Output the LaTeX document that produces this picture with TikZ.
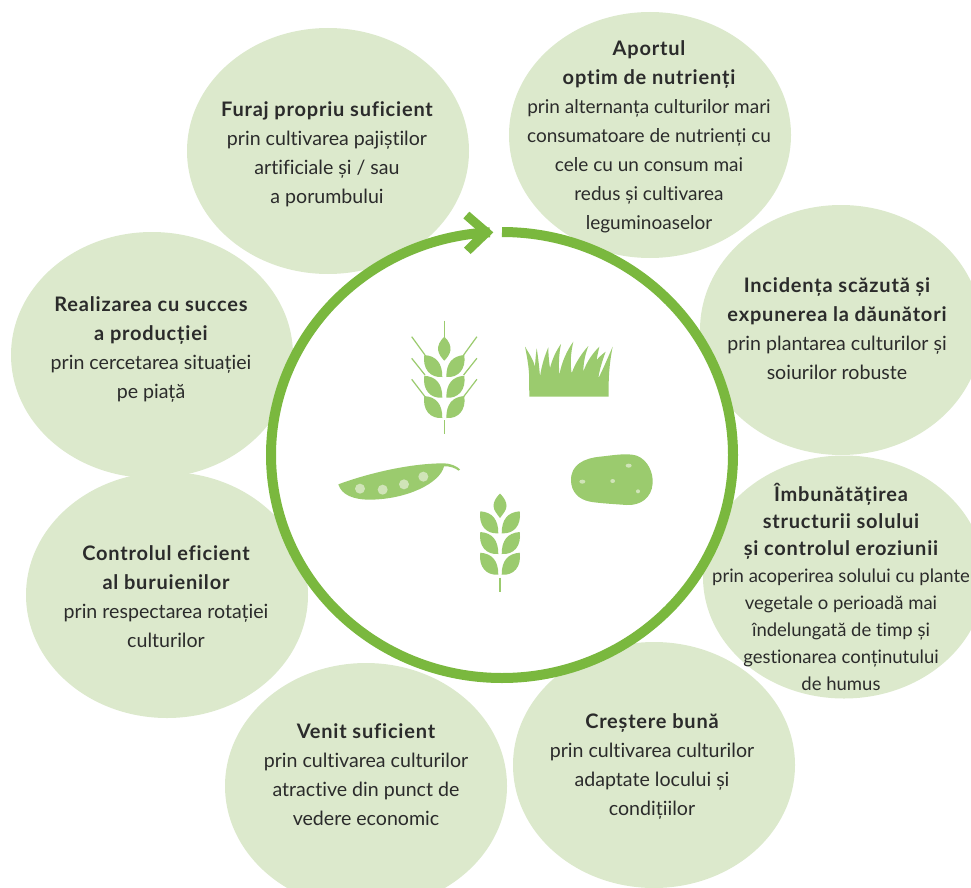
\documentclass[tikz,border=0pt]{standalone}
\usepackage{fontspec}
\usetikzlibrary{shapes.geometric}
\setmainfont[Ligatures=NoCommon,BoldFeatures={LetterSpace=4}]{Lato}
\definecolor{blob}{HTML}{DCE9CC}
\definecolor{ringc}{HTML}{7AB83E}
\definecolor{icon}{HTML}{9BCB6E}
\definecolor{spot}{HTML}{D0E4B8}
\definecolor{ink}{HTML}{2B2B2B}
\newcommand{\hd}[1]{{\fontsize{20}{29}\selectfont\bfseries #1}}
\tikzset{
  x=1pt,y=-1pt,
  bubble/.style={ellipse,fill=blob,inner sep=0pt,outer sep=0pt,minimum width=282pt,minimum height=246pt},
  label/.style={align=center,text=ink,font=\fontsize{19.6}{29}\selectfont,inner sep=0pt},
  leaf/.pic={\fill[icon] (0,0) .. controls (12,1) and (18,8) .. (18,22) .. controls (6,23) and (-2,14) .. (0,0) -- cycle;},
  zoomA/.style={xshift=320pt,yshift=-200pt,x=0.33333pt,y=-0.33333pt},
  zoomB/.style={xshift=320pt,yshift=-440pt,x=0.33333pt,y=-0.33333pt},
}
\begin{document}
\begin{tikzpicture}
\useasboundingbox (0,0) rectangle (971,888);
\clip (0,0) rectangle (971,888);
% bubbles
\node[bubble] (b1) at (328,151) {};
\node[bubble] (b2) at (650,135) {};
\node[bubble,minimum height=250pt] (b3) at (841,330) {};
\node[bubble,minimum height=243pt] (b4) at (844,577) {};
\node[bubble] (b5) at (654,765) {};
\node[bubble] (b6) at (366,786) {};
\node[bubble] (b7) at (167,595) {};
\node[bubble] (b8) at (152,355) {};
% ring
\node[ellipse,fill=white,minimum width=462pt,minimum height=446pt,inner sep=0pt,outer sep=0pt] (hub) at (502,455) {};
\draw[ringc,line width=10pt] (hub.north) arc[start angle=90,end angle=-267,x radius=231pt,y radius=223pt];
\fill[ringc,zoomA] (520,97) -- (448,35) -- (430,55) -- (478,97) -- (432,143) -- (452,162) -- cycle;
% wheat 1
\begin{scope}[icon]
\draw[line width=1.5pt] (444.3,320.7) -- (444.3,337) (444.3,420) -- (444.3,434.3);
\fill (444.3,336.7) .. controls (449,341) and (451,346) .. (450.5,350) .. controls (450,354) and (447,358) .. (444.3,360.7) .. controls (441.6,358) and (438.6,354) .. (438.1,350) .. controls (437.6,346) and (439.6,341) .. (444.3,336.7) -- cycle;
\foreach \yy in {355,375.7,396}{
  \pic at (424.3,\yy) {leaf};
  \pic[xscale=-1] at (464.3,\yy) {leaf};
}
\draw[line width=1.2pt] (411.7,336.7) -- (425,355) (411.7,358.3) -- (425,375) (411.7,379.3) -- (425,396.7)
  (476.9,336.7) -- (463.6,355) (476.9,358.3) -- (463.6,375) (476.9,379.3) -- (463.6,396.7);
% wheat 2
\draw[line width=1.5pt] (500,577.5) -- (500,592);
\fill (500,493.5) .. controls (504.5,498) and (506.5,502) .. (506.5,506) .. controls (506.5,510) and (503,514) .. (500,518) .. controls (497,514) and (493.5,510) .. (493.5,506) .. controls (493.5,502) and (495.5,498) .. (500,493.5) -- cycle;
\foreach \yy in {511.3,532,552.7}{
  \pic at (480.3,\yy) {leaf};
  \pic[xscale=-1] at (519.7,\yy) {leaf};
}
\end{scope}
% grass
\fill[icon,zoomA] (628,590) -- (627,520) .. controls (625,490) and (620,465) .. (615,440) .. controls (630,465) and (640,480) .. (645,500) .. controls (646,480) and (648,460) .. (650,445) .. controls (655,475) and (658,505) .. (660,530) .. controls (665,495) and (675,465) .. (685,442) .. controls (685,470) and (688,490) .. (690,505) .. controls (697,475) and (710,450) .. (723,432) .. controls (716,465) and (716,495) .. (718,525) .. controls (725,485) and (742,450) .. (760,425) .. controls (752,460) and (750,490) .. (755,520) .. controls (765,490) and (785,460) .. (805,438) .. controls (795,465) and (790,490) .. (790,515) .. controls (800,485) and (818,460) .. (838,440) .. controls (835,455) and (832,465) .. (830,480) .. controls (838,470) and (848,462) .. (857,455) .. controls (848,480) and (838,510) .. (835,535) .. controls (848,510) and (865,470) .. (878,440) .. controls (870,480) and (866,520) .. (866,560) -- (866,590) -- cycle;
% pea
\begin{scope}[zoomB]
\fill[icon] (55,133) .. controls (130,105) and (260,70) .. (372,70) .. controls (390,70) and (410,78) .. (420,88) -- (416,92) .. controls (405,84) and (390,78) .. (372,79) .. controls (360,130) and (260,178) .. (150,179) .. controls (100,179) and (65,165) .. (55,133) -- cycle;
\fill[spot] (120,146) circle[radius=15] (188,149) circle[radius=15] (252,133) circle[radius=15] (310,110) circle[radius=15];
% potato
\fill[icon] (753,120) .. controls (753,75) and (790,55) .. (840,50) .. controls (880,46) and (920,38) .. (950,47) .. controls (985,60) and (1000,100) .. (998,130) .. controls (995,175) and (960,197) .. (920,195) .. controls (880,192) and (840,190) .. (810,185) .. controls (775,178) and (753,155) .. (753,120) -- cycle;
\fill[spot] (926,77) ellipse[x radius=9,y radius=6] (787,125) ellipse[x radius=9,y radius=6] (878,123) ellipse[x radius=7,y radius=6] (954,154) ellipse[x radius=6,y radius=6];
\end{scope}
% labels
\node[label] (t1) at (327,154) {\hd{Furaj propriu suficient}\\prin cultivarea pajiștilor\\artificiale și / sau\\a porumbului};
\node[label,font=\fontsize{19}{29}\selectfont] (t2) at (649,137) {\hd{Aportul}\\\hd{optim de nutrienți}\\prin alternanța culturilor mari\\consumatoare de nutrienți cu\\cele cu un consum mai\\redus și cultivarea\\leguminoaselor};
\node[label] (t3) at (837,329) {\hd{Incidența scăzută și}\\\hd{expunerea la dăunători}\\prin plantarea culturilor și\\soiurilor robuste};
\node[label,font=\fontsize{18.5}{27}\selectfont] (t4) at (841,587) {\hd{Îmbunătățirea}\\\hd{structurii solului}\\\hd{și controlul eroziunii}\\prin acoperirea solului cu plante\\vegetale o perioadă mai\\îndelungată de timp și\\gestionarea conținutului\\de humus};
\node[label] (t5) at (652,766) {\hd{Creștere bună}\\prin cultivarea culturilor\\adaptate locului și\\condițiilor};
\node[label] (t6) at (366,774.5) {\hd{Venit suficient}\\prin cultivarea culturilor\\atractive din punct de\\vedere economic};
\node[label] (t7) at (166,596.5) {\hd{Controlul eficient}\\\hd{al buruienilor}\\prin respectarea rotației\\culturilor};
\node[label] (t8) at (151,349) {\hd{Realizarea cu succes}\\\hd{a producției}\\prin cercetarea situației\\pe piață};
\end{tikzpicture}
\end{document}
